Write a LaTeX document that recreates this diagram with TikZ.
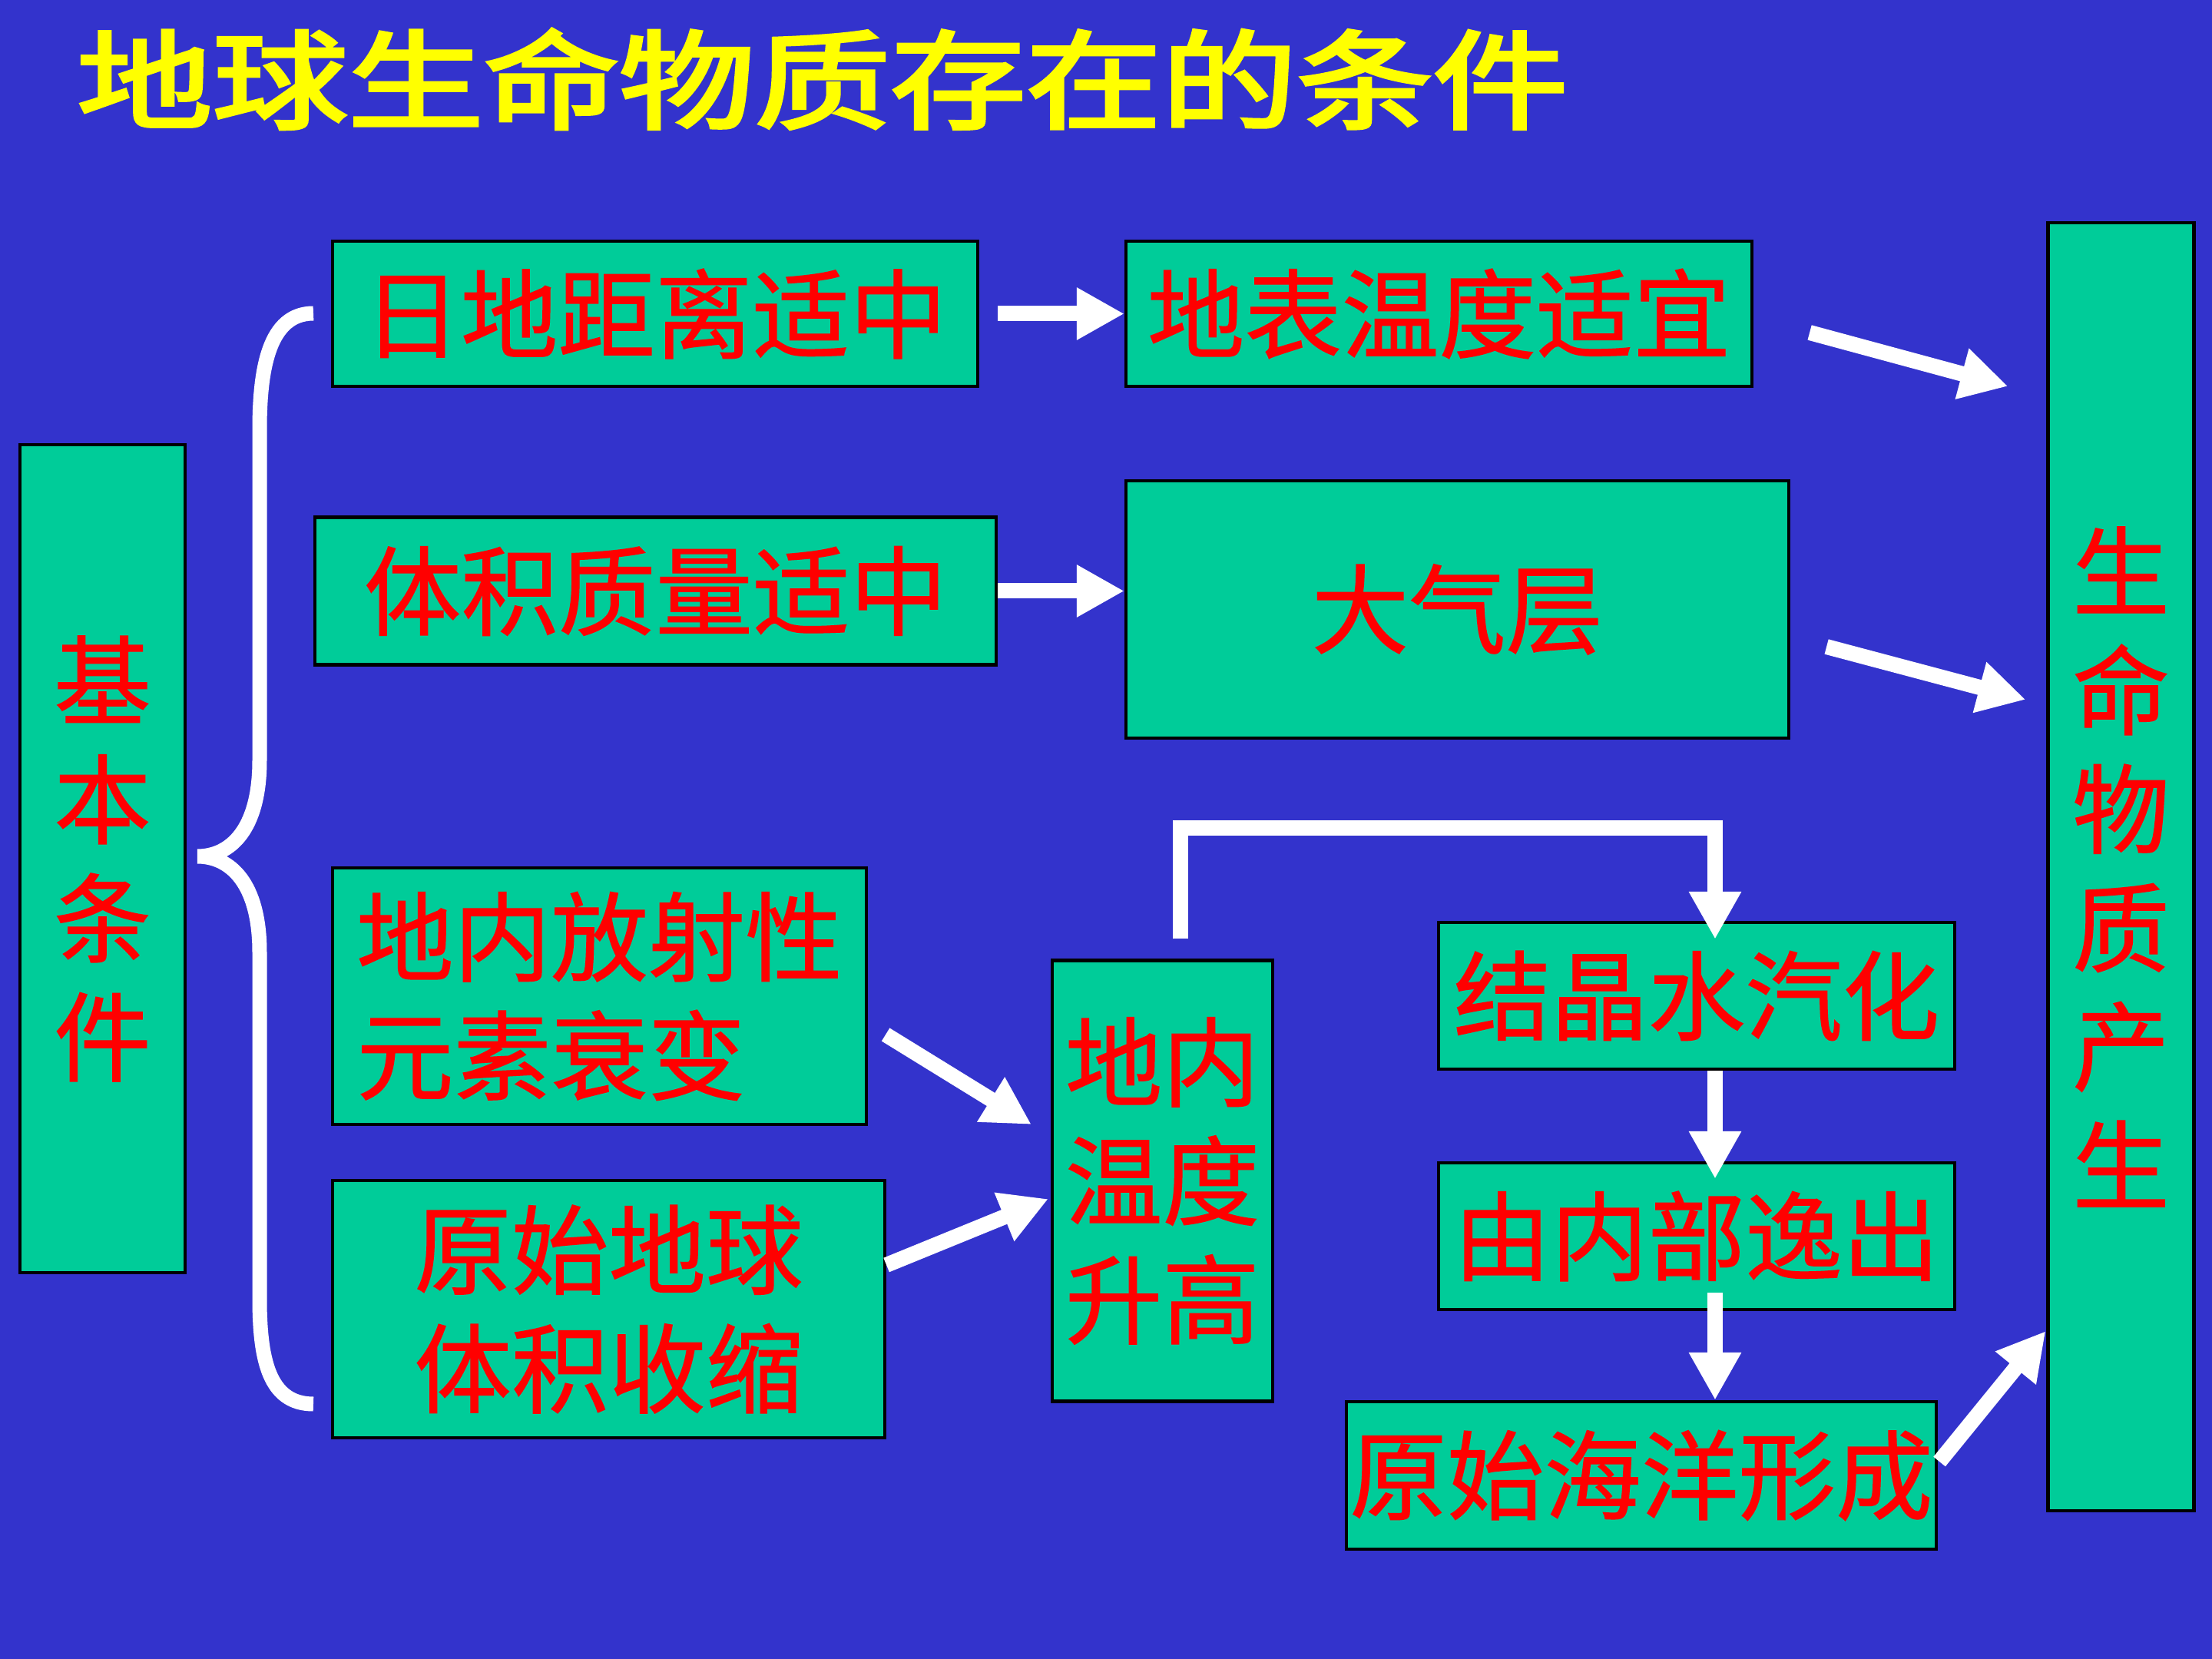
\documentclass[tikz,border=0pt]{standalone}
\usepackage{fontspec}
\newfontfamily\cjk[FakeBold=1]{Noto Sans CJK SC}
\newfontfamily\cjktitle[FakeBold=3]{Noto Sans CJK SC}
\usetikzlibrary{arrows.meta}
\definecolor{bgblue}{RGB}{51,51,204}
\definecolor{boxgreen}{RGB}{0,204,153}
\definecolor{txtred}{RGB}{255,0,0}
\definecolor{ttlyellow}{RGB}{255,255,0}
\tikzset{
	box/.style={draw=black, line width=1.2pt, fill=boxgreen, text=txtred, font=\cjk\fontsize{36}{44}\selectfont, inner sep=0pt, align=center},
	arr/.style={draw=white, line width=0.2cm, -{Triangle[length=0.62cm,width=0.64cm]}},
}

\begin{document}
\begin{tikzpicture}
			%%%%% START %%%%%
			
			\fill[bgblue] (0, 0) rectangle (28.8, -21.6);
			\useasboundingbox (0, 0) rectangle (28.8, -21.6);
			
			\node[text=ttlyellow, font=\cjktitle\fontsize{41}{48}\selectfont] (title) at (10.71, -1.03) {\scalebox{1.225}[0.97]{地球生命物质存在的条件}};
			
			\node[box, minimum width=2.15cm, minimum height=10.78cm] (jiben) at (1.335, -11.18) {基\\本\\条\\件};
			
			\draw[white, line width=0.19cm] (4.08, -4.08) .. controls (3.5, -4.08) and (3.38, -4.8) .. (3.38, -5.6) -- (3.38, -9.9) .. controls (3.38, -10.8) and (3.0, -11.15) .. (2.57, -11.15) .. controls (3.0, -11.15) and (3.38, -11.5) .. (3.38, -12.4) -- (3.38, -16.9) .. controls (3.38, -17.7) and (3.5, -18.28) .. (4.08, -18.28);
			
			\node[box, minimum width=8.4cm, minimum height=1.89cm] (ridi) at (8.53, -4.085) {日地距离适中};
			\node[box, minimum width=8.15cm, minimum height=1.89cm] (dibiao) at (18.735, -4.085) {地表温度适宜};
			\node[box, minimum width=8.87cm, minimum height=1.92cm] (tiji) at (8.535, -7.695) {体积质量适中};
			\node[box, minimum width=8.63cm, minimum height=3.35cm] (daqi) at (18.975, -7.935) {大气层};
			
			\node[box, minimum width=1.9cm, minimum height=16.77cm] (shengming) at (27.615, -11.285) {生\\命\\物\\质\\产\\生};
			
			\node[box, minimum width=6.95cm, minimum height=3.34cm, align=left] (fangshe) at (7.805, -12.97) {地内放射性\\元素衰变};
			\node[box, minimum width=7.19cm, minimum height=3.35cm] (shousuo) at (7.925, -17.045) {原始地球\\体积收缩};
			\node[box, minimum width=2.87cm, minimum height=5.74cm] (diwen) at (15.135, -15.375) {地内\\温度\\升高};
			
			\node[box, minimum width=6.72cm, minimum height=1.91cm] (jiejing) at (22.09, -12.965) {结晶水汽化};
			\node[box, minimum width=6.72cm, minimum height=1.91cm] (neibu) at (22.09, -16.095) {由内部逸出};
			\node[box, minimum width=7.68cm, minimum height=1.92cm] (haiyang) at (21.37, -19.21) {原始海洋形成};
			
			\draw[arr, shorten <=0.24cm] (ridi.east) -- (dibiao.west);
			\draw[arr] (tiji.east) -- (tiji.east -| daqi.west);
			\draw[arr] ([xshift=7.3mm, yshift=-2.45mm]dibiao.east) -- ([xshift=-5mm, yshift=-21.5mm]shengming.north west);
			\draw[arr] ([xshift=4.7mm, yshift=-4.85mm]daqi.east) -- ([xshift=-2.7mm, yshift=-62.3mm]shengming.north west);
			
			\draw[arr] ([xshift=2.3mm, yshift=-5mm]fangshe.east) -- ([xshift=-2.5mm, yshift=7.35mm]diwen.west);
			\draw[arr] ([yshift=5.75mm]shousuo.east) -- ([xshift=-0.3mm, yshift=-2.35mm]diwen.west);
			
			\draw[arr] ([xshift=2.35mm, yshift=2.6mm]diwen.north) -- ++(0, 1.44) -| ([xshift=2.4mm, yshift=-2.4mm]jiejing.north);
			\draw[arr] ([xshift=2.4mm]jiejing.south) -- ([xshift=2.4mm, yshift=-2.3mm]neibu.north);
			\draw[arr] ([xshift=2.4mm, yshift=2.4mm]neibu.south) -- ([xshift=2.4mm]neibu.south |- haiyang.north);
			\draw[arr] ([xshift=0.2mm, yshift=1.8mm]haiyang.east) -- ([xshift=-0.1mm, yshift=23.6mm]shengming.south west);
			
			%%%%% END %%%%%
\end{tikzpicture}
\end{document}
